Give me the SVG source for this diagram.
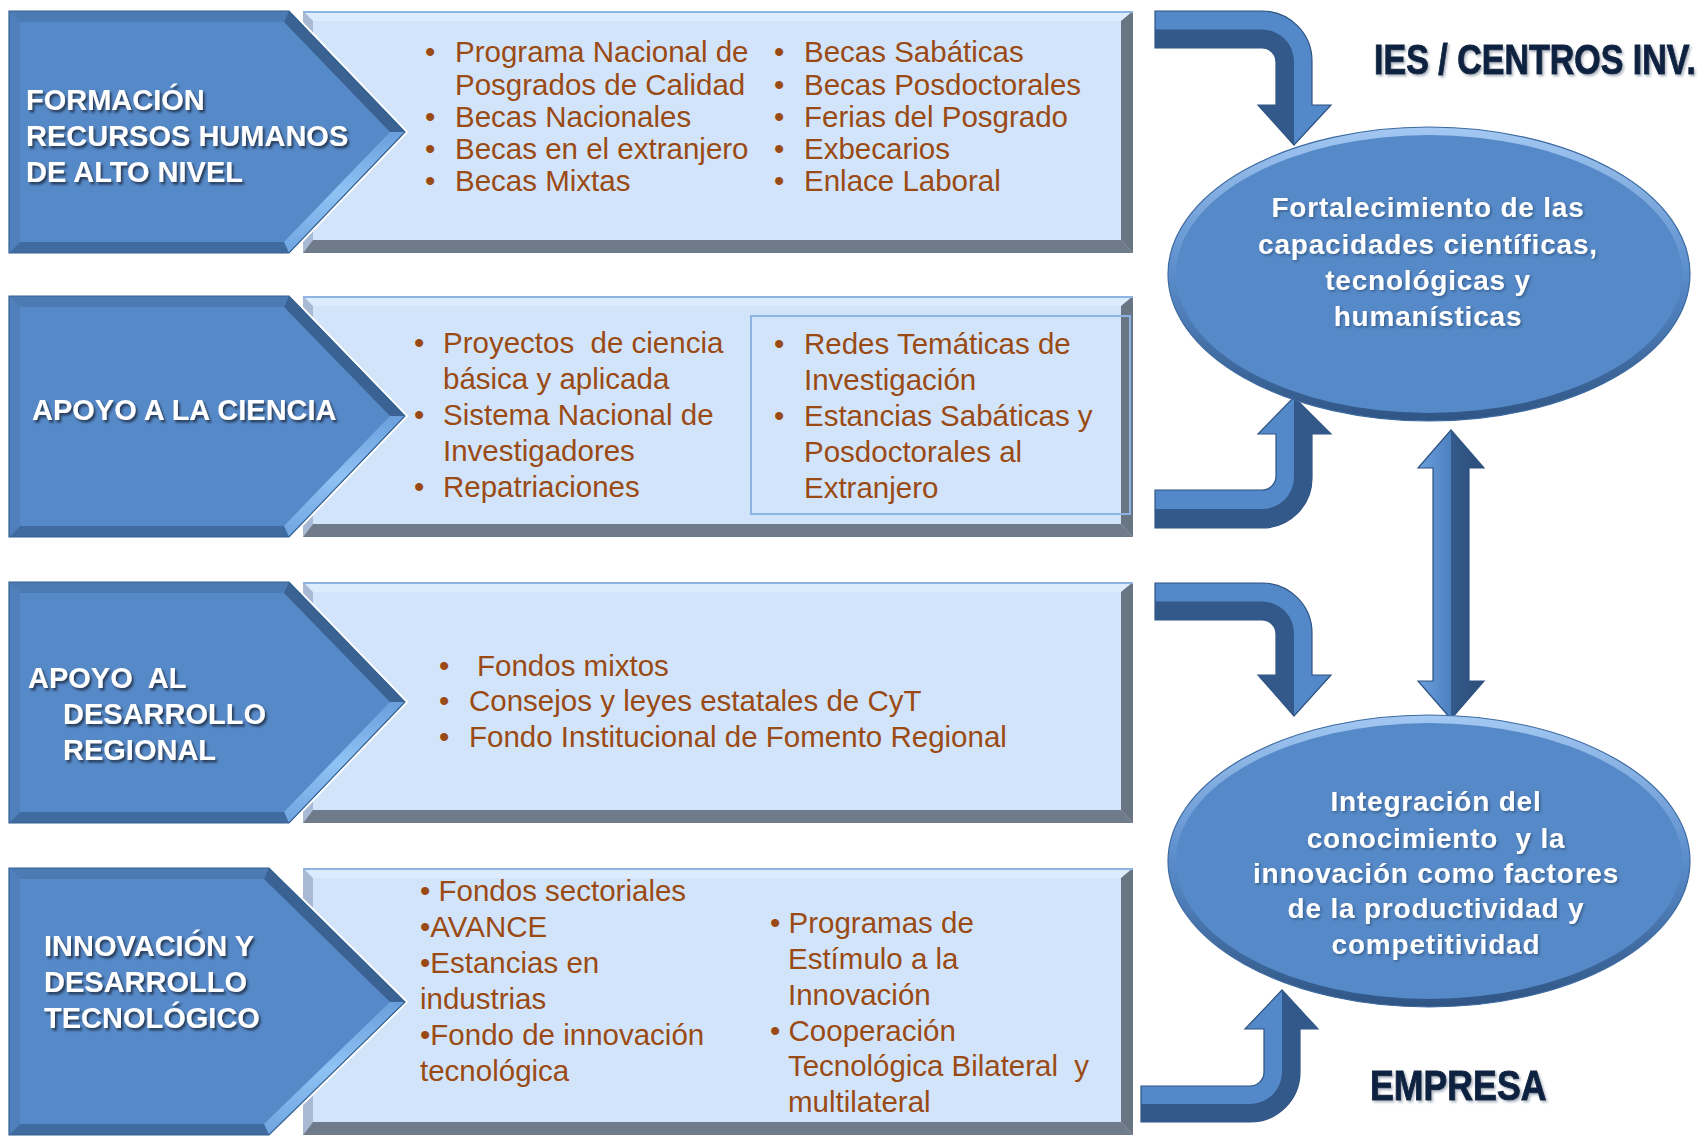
<svg xmlns="http://www.w3.org/2000/svg" width="1708" height="1137" viewBox="0 0 1708 1137">
<style>
.bt{fill:#4c7bb4}.bu{fill:#3a6292}.bl{fill:url(#lowbev)}.bb{fill:#3f6ba1}.bf{fill:#4f80bb}.ci{fill:#5689c7}
.cw{fill:none;stroke:#fff;stroke-width:5;stroke-linejoin:miter}
.co{fill:none;stroke:#34608f;stroke-width:1.2}
.pt{fill:#dcebfd}.pl{fill:#a7b9d3}.pb{fill:#6f7b8b}.pr{fill:#6a7584}.pi{fill:#d2e4fa}
.pe{fill:none;stroke:#8eb4e3;stroke-width:2}
.chev{font-family:"Liberation Sans",Arial,sans-serif;font-weight:bold;font-size:29px;fill:#fff;filter:url(#ts);white-space:pre}
.item{font-family:"Liberation Sans",Arial,sans-serif;font-size:29.5px;fill:#9a4a14;white-space:pre}
.ell{font-family:"Liberation Sans",Arial,sans-serif;font-weight:bold;font-size:28px;fill:#fff;text-anchor:middle;letter-spacing:0.8px;white-space:pre;filter:url(#ts2)}
.title{font-family:"Liberation Sans",Arial,sans-serif;font-weight:bold;font-size:42px;fill:#0f2341;stroke:#0f2341;stroke-width:1;filter:url(#ts3)}
.arr{fill:#5489c9;stroke:#2e5380;stroke-width:1.2}
.ard{fill:#33588a}
.ein{fill:#5689c7}
</style>
<defs>
<filter id="ts" x="-10%" y="-40%" width="120%" height="180%"><feDropShadow dx="2" dy="2.5" stdDeviation="1.2" flood-color="#1b2d45" flood-opacity="0.85"/></filter>
<filter id="ts2" x="-10%" y="-40%" width="120%" height="180%"><feDropShadow dx="1.5" dy="1.5" stdDeviation="1" flood-color="#1b2d45" flood-opacity="0.45"/></filter>
<filter id="ts3" x="-5%" y="-40%" width="110%" height="180%"><feDropShadow dx="2" dy="2" stdDeviation="1.2" flood-color="#7f8c9e" flood-opacity="0.6"/></filter>
<linearGradient id="rim" x1="0" y1="0" x2="0" y2="1">
<stop offset="0" stop-color="#a3c8f2"/><stop offset="0.5" stop-color="#5a8ccb"/><stop offset="1" stop-color="#2f5584"/>
</linearGradient>
<linearGradient id="lowbev" x1="0" y1="0" x2="0" y2="1">
<stop offset="0" stop-color="#6a9fdc"/><stop offset="0.5" stop-color="#8fc2f4"/><stop offset="1" stop-color="#6fa4e0"/>
</linearGradient>
<linearGradient id="dbl" x1="0" y1="0" x2="1" y2="0">
<stop offset="0" stop-color="#6a9fdd"/><stop offset="0.5" stop-color="#4d80bf"/><stop offset="0.5" stop-color="#34598a"/><stop offset="1" stop-color="#2c4e7a"/>
</linearGradient>
</defs>

<rect width="1708" height="1137" fill="#fff"/>

<!-- Row 1 -->
<g id="panel-formacion">
<polygon class="pi" points="303,11 1133,11 1133,253 303,253"/>
<polygon class="pt" points="303,11 1133,11 1121,21 313,21"/>
<polygon class="pl" points="303,11 313,21 313,240 303,253"/>
<polygon class="pb" points="303,253 313,240 1121,240 1133,253"/>
<polygon class="pr" points="1133,11 1133,253 1121,240 1121,21"/>
<line class="pe" x1="303" y1="12" x2="1133" y2="12"/>
<text class="item" x="425" y="62">•</text>
<text class="item" x="455" y="62">Programa Nacional de</text>
<text class="item" x="455" y="95">Posgrados de Calidad</text>
<text class="item" x="425" y="127">•</text>
<text class="item" x="455" y="127">Becas Nacionales</text>
<text class="item" x="425" y="159">•</text>
<text class="item" x="455" y="159">Becas en el extranjero</text>
<text class="item" x="425" y="191">•</text>
<text class="item" x="455" y="191">Becas Mixtas</text>
<text class="item" x="774" y="62">•</text>
<text class="item" x="804" y="62">Becas Sabáticas</text>
<text class="item" x="774" y="95">•</text>
<text class="item" x="804" y="95">Becas Posdoctorales</text>
<text class="item" x="774" y="127">•</text>
<text class="item" x="804" y="127">Ferias del Posgrado</text>
<text class="item" x="774" y="159">•</text>
<text class="item" x="804" y="159">Exbecarios</text>
<text class="item" x="774" y="191">•</text>
<text class="item" x="804" y="191">Enlace Laboral</text>
</g>
<g id="node-formacion">
<polygon class="cw" points="9,11 289,11 405,132 289,253 9,253"/>
<polygon class="ci" points="9,11 289,11 405,132 289,253 9,253"/>
<polygon class="bt" points="9,11 289,11 284,22 20,22"/>
<polygon class="bu" points="289,11 405,132 390,132 284,22"/>
<polygon class="bl" points="405,132 289,253 284,242 390,132"/>
<polygon class="bb" points="289,253 9,253 20,242 284,242"/>
<polygon class="bf" points="9,253 9,11 20,22 20,242"/>
<polygon class="co" points="9,11 289,11 405,132 289,253 9,253"/>
<text class="chev" x="26" y="110">FORMACIÓN</text>
<text class="chev" x="26" y="146">RECURSOS HUMANOS</text>
<text class="chev" x="26" y="182">DE ALTO NIVEL</text>
</g>

<!-- Row 2 -->
<g id="panel-ciencia">
<polygon class="pi" points="303,296 1133,296 1133,537 303,537"/>
<polygon class="pt" points="303,296 1133,296 1121,306 313,306"/>
<polygon class="pl" points="303,296 313,306 313,524 303,537"/>
<polygon class="pb" points="303,537 313,524 1121,524 1133,537"/>
<polygon class="pr" points="1133,296 1133,537 1121,524 1121,306"/>
<line class="pe" x1="303" y1="297" x2="1133" y2="297"/>
<rect x="751" y="316" width="379" height="198" fill="none" stroke="#8db3e2" stroke-width="2"/>
<text class="item" x="414" y="353">•</text>
<text class="item" x="443" y="353">Proyectos  de ciencia</text>
<text class="item" x="443" y="389">básica y aplicada</text>
<text class="item" x="414" y="425">•</text>
<text class="item" x="443" y="425">Sistema Nacional de</text>
<text class="item" x="443" y="461">Investigadores</text>
<text class="item" x="414" y="497">•</text>
<text class="item" x="443" y="497">Repatriaciones</text>
<text class="item" x="774" y="354">•</text>
<text class="item" x="804" y="354">Redes Temáticas de</text>
<text class="item" x="804" y="390">Investigación</text>
<text class="item" x="774" y="426">•</text>
<text class="item" x="804" y="426">Estancias Sabáticas y</text>
<text class="item" x="804" y="462">Posdoctorales al</text>
<text class="item" x="804" y="498">Extranjero</text>
</g>
<g id="node-ciencia">
<polygon class="cw" points="9,296 289,296 405,416 289,537 9,537"/>
<polygon class="ci" points="9,296 289,296 405,416 289,537 9,537"/>
<polygon class="bt" points="9,296 289,296 284,307 20,307"/>
<polygon class="bu" points="289,296 405,416 390,416 284,307"/>
<polygon class="bl" points="405,416 289,537 284,526 390,416"/>
<polygon class="bb" points="289,537 9,537 20,526 284,526"/>
<polygon class="bf" points="9,537 9,296 20,307 20,526"/>
<polygon class="co" points="9,296 289,296 405,416 289,537 9,537"/>
<text class="chev" x="32" y="420">APOYO A LA CIENCIA</text>
</g>

<!-- Row 3 -->
<g id="panel-regional">
<polygon class="pi" points="303,582 1133,582 1133,823 303,823"/>
<polygon class="pt" points="303,582 1133,582 1121,592 313,592"/>
<polygon class="pl" points="303,582 313,592 313,810 303,823"/>
<polygon class="pb" points="303,823 313,810 1121,810 1133,823"/>
<polygon class="pr" points="1133,582 1133,823 1121,810 1121,592"/>
<line class="pe" x1="303" y1="583" x2="1133" y2="583"/>
<text class="item" x="439" y="676">•</text>
<text class="item" x="477" y="676">Fondos mixtos</text>
<text class="item" x="439" y="711">•</text>
<text class="item" x="469" y="711">Consejos y leyes estatales de CyT</text>
<text class="item" x="439" y="747">•</text>
<text class="item" x="469" y="747">Fondo Institucional de Fomento Regional</text>
</g>
<g id="node-regional">
<polygon class="cw" points="9,582 289,582 405,702 289,823 9,823"/>
<polygon class="ci" points="9,582 289,582 405,702 289,823 9,823"/>
<polygon class="bt" points="9,582 289,582 284,593 20,593"/>
<polygon class="bu" points="289,582 405,702 390,702 284,593"/>
<polygon class="bl" points="405,702 289,823 284,812 390,702"/>
<polygon class="bb" points="289,823 9,823 20,812 284,812"/>
<polygon class="bf" points="9,823 9,582 20,593 20,812"/>
<polygon class="co" points="9,582 289,582 405,702 289,823 9,823"/>
<text class="chev" x="28" y="688">APOYO  AL</text>
<text class="chev" x="63" y="724">DESARROLLO</text>
<text class="chev" x="63" y="760">REGIONAL</text>
</g>

<!-- Row 4 -->
<g id="panel-innovacion">
<polygon class="pi" points="303,868 1133,868 1133,1135 303,1135"/>
<polygon class="pt" points="303,868 1133,868 1121,878 313,878"/>
<polygon class="pl" points="303,868 313,878 313,1122 303,1135"/>
<polygon class="pb" points="303,1135 313,1122 1121,1122 1133,1135"/>
<polygon class="pr" points="1133,868 1133,1135 1121,1122 1121,878"/>
<line class="pe" x1="303" y1="869" x2="1133" y2="869"/>
<text class="item" x="420" y="901">• Fondos sectoriales</text>
<text class="item" x="420" y="937">•AVANCE</text>
<text class="item" x="420" y="973">•Estancias en</text>
<text class="item" x="420" y="1009">industrias</text>
<text class="item" x="420" y="1045">•Fondo de innovación</text>
<text class="item" x="420" y="1081">tecnológica</text>
<text class="item" x="770" y="933">• Programas de</text>
<text class="item" x="788" y="969">Estímulo a la</text>
<text class="item" x="788" y="1005">Innovación</text>
<text class="item" x="770" y="1041">• Cooperación</text>
<text class="item" x="788" y="1076" textLength="301" lengthAdjust="spacingAndGlyphs">Tecnológica Bilateral  y</text>
<text class="item" x="788" y="1112">multilateral</text>
</g>
<g id="node-innovacion">
<polygon class="cw" points="9,868 269,868 405,1002 269,1135 9,1135"/>
<polygon class="ci" points="9,868 269,868 405,1002 269,1135 9,1135"/>
<polygon class="bt" points="9,868 269,868 264,879 20,879"/>
<polygon class="bu" points="269,868 405,1002 390,1002 264,879"/>
<polygon class="bl" points="405,1002 269,1135 264,1124 390,1002"/>
<polygon class="bb" points="269,1135 9,1135 20,1124 264,1124"/>
<polygon class="bf" points="9,1135 9,868 20,879 20,1124"/>
<polygon class="co" points="9,868 269,868 405,1002 269,1135 9,1135"/>
<text class="chev" x="44" y="956">INNOVACIÓN Y</text>
<text class="chev" x="44" y="992">DESARROLLO</text>
<text class="chev" x="44" y="1028">TECNOLÓGICO</text>
</g>

<!-- Connectors -->
<g id="connectors">
<path class="arr" d="M1155,11 H1262 A50,50 0 0 1 1312,61 V105 H1331 L1294,145 L1258,105 H1276 V62 A14,14 0 0 0 1262,48 H1155 Z"/>
<path class="ard" d="M1155,29.5 H1262 A32,32 0 0 1 1294,61.5 V145 L1258,105 H1276 V62 A14,14 0 0 0 1262,48 H1155 Z"/>
<path class="arr" d="M1155,528 H1262 A50,50 0 0 0 1312,478 V434 H1331 L1294,397 L1258,434 H1276 V476 A14,14 0 0 1 1262,490 H1155 Z"/>
<path class="ard" d="M1155,528 H1262 A50,50 0 0 0 1312,478 V434 H1331 L1294,397 V477 A32,32 0 0 1 1262,509 H1155 Z"/>
<path class="arr" d="M1155,583 H1262 A50,50 0 0 1 1312,633 V675 H1331 L1294,716 L1258,675 H1276 V634 A14,14 0 0 0 1262,620 H1155 Z"/>
<path class="ard" d="M1155,601.5 H1262 A32,32 0 0 1 1294,633.5 V716 L1258,675 H1276 V634 A14,14 0 0 0 1262,620 H1155 Z"/>
<path class="arr" d="M1141,1122 H1250 A50,50 0 0 0 1300,1072 V1029 H1318 L1282,990 L1245,1029 H1264 V1072 A14,14 0 0 1 1250,1086 H1141 Z"/>
<path class="ard" d="M1141,1122 H1250 A50,50 0 0 0 1300,1072 V1029 H1318 L1282,990 V1072 A32,32 0 0 1 1250,1104 H1141 Z"/>
<path d="M1451,430 L1484,468 H1469 V681 H1484 L1451,719 L1418,681 H1433 V468 H1418 Z" fill="url(#dbl)" stroke="#2e5380" stroke-width="1.2"/>
</g>

<!-- Ellipses -->
<g id="node-fortalecimiento">
<ellipse cx="1429" cy="274" rx="261" ry="147" fill="url(#rim)" stroke="#3d6aa0" stroke-width="1.2"/>
<ellipse class="ein" cx="1429" cy="274" rx="253" ry="139"/>
<text class="ell" x="1428" y="217">Fortalecimiento de las</text>
<text class="ell" x="1428" y="254">capacidades científicas,</text>
<text class="ell" x="1428" y="290">tecnológicas y</text>
<text class="ell" x="1428" y="326">humanísticas</text>
</g>
<g id="node-integracion">
<ellipse cx="1429" cy="861" rx="261" ry="146" fill="url(#rim)" stroke="#3d6aa0" stroke-width="1.2"/>
<ellipse class="ein" cx="1429" cy="861" rx="253" ry="138"/>
<text class="ell" x="1436" y="811">Integración del</text>
<text class="ell" x="1436" y="848">conocimiento  y la</text>
<text class="ell" x="1436" y="883">innovación como factores</text>
<text class="ell" x="1436" y="918">de la productividad y</text>
<text class="ell" x="1436" y="954">competitividad</text>
</g>

<g id="label-ies">
<text class="title" transform="translate(1374,74) scale(0.81,1)" x="0" y="0">IES / CENTROS INV.</text>
</g>
<g id="label-empresa">
<text class="title" transform="translate(1370,1100) scale(0.85,1)" x="0" y="0">EMPRESA</text>
</g>
</svg>
